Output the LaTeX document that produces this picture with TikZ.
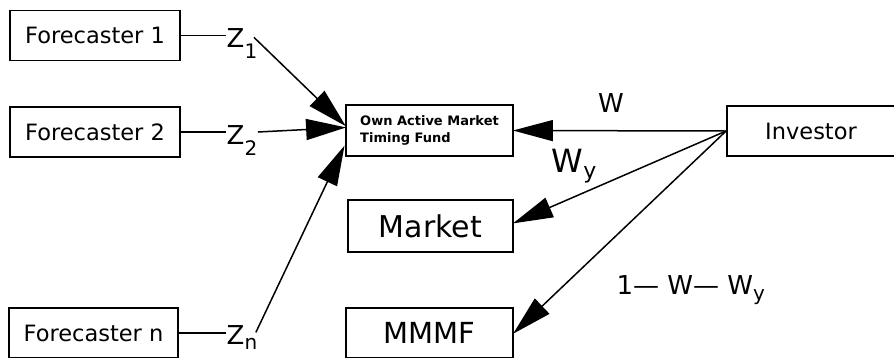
\documentclass[tikz,border=0pt]{standalone}
\usepackage{fontspec}
\setmainfont{DejaVu Sans}
\usetikzlibrary{arrows.meta}

% lowered subscript: #1 size, #2 drop, #3 text
\newcommand\lowsub[3]{\raisebox{-#2}{\fontsize{#1}{#1}\selectfont #3}}

\begin{document}
\begin{tikzpicture}[x=1pt,y=-1pt,
  box/.style={draw, line width=1.8pt, inner sep=0pt, align=center},
  lab/.style={inner sep=0.5pt, anchor=base west},
  link/.style={line width=1.5pt},
  flow/.style={line width=1.5pt, -{Triangle[length=40pt,width=21pt]}, shorten >=-1pt},
  fcst/.style={box, minimum width=170pt, minimum height=50pt, font=\fontsize{22.5}{22.5}\selectfont}
]
\clip (0,0) rectangle (894,357);
\fill[white] (0,0) rectangle (894,357);

% forecasters
\node[fcst] (f1) at (95,35.5) {Forecaster 1};
\node[fcst] (f2) at (95,132) {Forecaster 2};
\node[fcst, minimum width=169pt] (fn) at (93.5,333) {Forecaster n};

% forecast signals
\node[lab, font=\fontsize{26}{26}\selectfont] (z1) at (226,47) {Z\lowsub{20pt}{11pt}{1}};
\node[lab, font=\fontsize{26}{26}\selectfont] (z2) at (226,144) {Z\lowsub{20pt}{11pt}{2}};
\node[lab, font=\fontsize{26}{26}\selectfont] (zn) at (226,344) {Z\lowsub{20pt}{5pt}{n}};

\draw[link] (f1.east) -- (f1.east -| z1.west);
\draw[link] (f2.east) -- (f2.east -| z2.west);
\draw[link] (fn.east) -- (fn.east -| zn.west);

% fund, investor and the other holdings
\node[box, minimum width=167pt, minimum height=51pt, font=\bfseries\fontsize{13}{16.5}\selectfont, align=left]
  (fund) at (429.5,130.5) {Own Active Market\\Timing Fund};
\node[box, minimum width=173pt, minimum height=50pt] (inv) at (813.5,131) {};
\node[font=\fontsize{22.5}{22.5}\selectfont] at (811,131) {Investor};
\node[box, minimum width=165pt, minimum height=52pt, font=\fontsize{30}{30}\selectfont] (mkt) at (430.5,226) {Market};
\node[box, minimum width=167pt, minimum height=50pt, font=\fontsize{29}{29}\selectfont] (mmmf) at (429.5,333) {MMMF};

% signals into the fund
\draw[flow] ([xshift=-4pt,yshift=-10pt]z1.north east) -- ([yshift=5pt]fund.west);
\draw[flow] (z2.east |- f2.east) -- ([yshift=3pt]fund.west);
\draw[flow] ([xshift=-2pt,yshift=-8pt]zn.north east) -- ([yshift=-16pt,xshift=-1pt]fund.west);

% investor allocations
\draw[flow] (inv.west) -- (fund.east);
\draw[flow] (inv.west) -- ([yshift=3pt]mkt.east);
\draw[flow] (inv.west) -- (mmmf.east);

% allocation weights
\node[font=\fontsize{26}{26}\selectfont] (w) at (611,103) {W};
\node[lab, font=\fontsize{32}{32}\selectfont] (wy) at (551,172) {W\lowsub{22pt}{6pt}{y}};
\node[lab, font=\fontsize{26}{26}\selectfont] (rest) at (616,294) {1— W— W\lowsub{20pt}{6pt}{y}};
\end{tikzpicture}
\end{document}
